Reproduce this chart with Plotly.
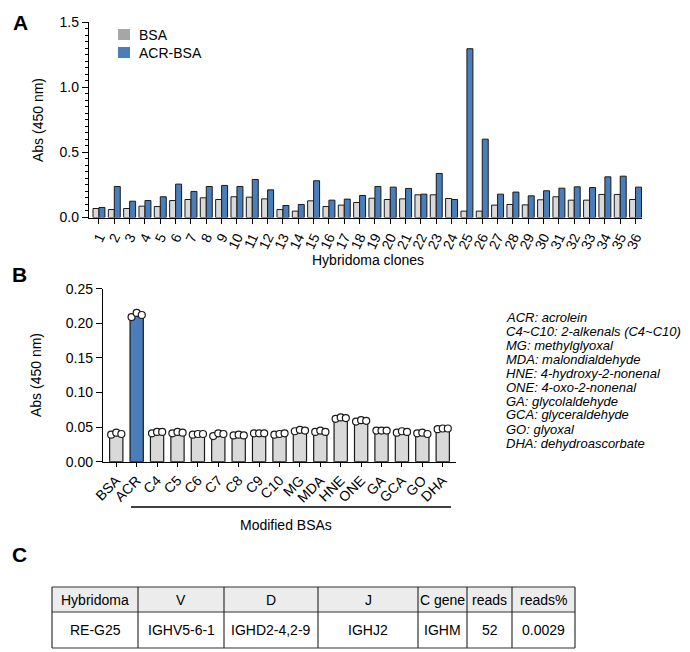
import plotly.graph_objects as go

W, H = 690, 652
def X(px): return px / W
def Y(py): return 1 - py / H

FONT = "Liberation Sans, Arial, sans-serif"

# ---------------- Panel A data ----------------
clones = [str(i) for i in range(1, 37)]
clone_pos = list(range(1, 37))
bsa_a = [0.069, 0.061, 0.069, 0.087, 0.084, 0.130, 0.138, 0.151, 0.138, 0.159,
         0.156, 0.143, 0.061, 0.049, 0.128, 0.084, 0.095, 0.115, 0.148, 0.138,
         0.143, 0.174, 0.174, 0.146, 0.049, 0.049, 0.095, 0.100, 0.097, 0.136,
         0.159, 0.133, 0.133, 0.177, 0.177, 0.138]
acr_a = [0.077, 0.238, 0.125, 0.130, 0.159, 0.256, 0.200, 0.238, 0.246, 0.238,
         0.292, 0.212, 0.092, 0.100, 0.282, 0.133, 0.141, 0.169, 0.238, 0.233,
         0.223, 0.179, 0.338, 0.138, 1.295, 0.601, 0.179, 0.195, 0.166, 0.205,
         0.225, 0.235, 0.230, 0.312, 0.317, 0.233]

# ---------------- Panel B data ----------------
mods = ["BSA", "ACR", "C4", "C5", "C6", "C7", "C8", "C9", "C10", "MG", "MDA",
        "HNE", "ONE", "GA", "GCA", "GO", "DHA"]
mod_pos = list(range(len(mods)))
mod_means = [0.041, 0.212, 0.041, 0.041, 0.039, 0.039, 0.038, 0.040, 0.039, 0.045,
             0.044, 0.063, 0.059, 0.045, 0.043, 0.040, 0.047]
rep1 = [0.039, 0.209, 0.041, 0.041, 0.039, 0.037, 0.038, 0.041, 0.039, 0.044,
        0.043, 0.062, 0.058, 0.045, 0.042, 0.041, 0.047]
rep2 = [0.042, 0.215, 0.043, 0.043, 0.040, 0.041, 0.039, 0.041, 0.040, 0.046,
        0.045, 0.064, 0.060, 0.045, 0.044, 0.042, 0.048]
rep3 = [0.040, 0.212, 0.043, 0.042, 0.040, 0.040, 0.038, 0.041, 0.041, 0.045,
        0.043, 0.063, 0.059, 0.045, 0.043, 0.040, 0.048]

abbrev_notes = ["ACR: acrolein", "C4~C10: 2-alkenals (C4~C10)", "MG: methylglyoxal",
                "MDA: malondialdehyde", "HNE: 4-hydroxy-2-nonenal", "ONE: 4-oxo-2-nonenal",
                "GA: glycolaldehyde", "GCA: glyceraldehyde", "GO: glyoxal",
                "DHA: dehydroascorbate"]

# ---------------- Panel C data ----------------
table_header = ["Hybridoma", "V", "D", "J", "C gene", "reads", "reads%"]
table_row = ["RE-G25", "IGHV5-6-1", "IGHD2-4,2-9", "IGHJ2", "IGHM", "52", "0.0029"]

GRAY = "#d9d9d9"
BLUE = "#4a7ebb"
EDGE = "#1a1a1a"

fig = go.Figure()

fig.add_trace(go.Bar(x=clone_pos, y=bsa_a, name="BSA", marker=dict(color=GRAY, line=dict(color=EDGE, width=1)),
                     xaxis="x", yaxis="y", showlegend=False))
fig.add_trace(go.Bar(x=clone_pos, y=acr_a, name="ACR-BSA", marker=dict(color=BLUE, line=dict(color=EDGE, width=1)),
                     xaxis="x", yaxis="y", showlegend=False))

bar_colors_b = [BLUE if m == "ACR" else GRAY for m in mods]
fig.add_trace(go.Bar(x=mod_pos, y=mod_means, width=0.65,
                     marker=dict(color=bar_colors_b, line=dict(color=EDGE, width=1.2)),
                     xaxis="x2", yaxis="y2", showlegend=False, offsetgroup="b"))
for off, rep in zip([-0.25, 0.0, 0.25], [rep1, rep2, rep3]):
    fig.add_trace(go.Scatter(x=[p + off for p in mod_pos], y=rep, mode="markers",
                             marker=dict(size=7, color="white", line=dict(color=EDGE, width=1.2)),
                             xaxis="x2", yaxis="y2", showlegend=False, cliponaxis=False))

axis_common = dict(showline=True, linecolor="black", linewidth=1.3, ticks="outside",
                   tickcolor="black", tickwidth=1.2, showgrid=False, zeroline=False,
                   automargin=False,
                   tickfont=dict(family=FONT, size=14, color="black"))

annotations = []
shapes = []

def txt(x, y, s, size=14, xanchor="center", **kw):
    d = dict(x=X(x), y=Y(y), xref="paper", yref="paper", text=s, showarrow=False,
             xanchor=xanchor, yanchor="middle",
             font=dict(family=FONT, size=size, color="black"))
    d.update(kw)
    annotations.append(d)

# panel labels
txt(12, 15, "<b>A</b>", size=21)
txt(11, 266, "<b>B</b>", size=21)
txt(11, 546, "<b>C</b>", size=21)
# axis titles
txt(30, 112, "Abs (450 nm)", textangle=-90)
txt(360, 252, "Hybridoma clones")
txt(28, 367, "Abs (450 nm)", textangle=-90)
txt(278, 517, "Modified BSAs")
# legend A
shapes.append(dict(type="rect", xref="paper", yref="paper", x0=X(110), x1=X(122), y0=Y(32), y1=Y(21),
                   fillcolor="#a6a6a6", line=dict(width=0)))
shapes.append(dict(type="rect", xref="paper", yref="paper", x0=X(110), x1=X(122), y0=Y(50), y1=Y(39),
                   fillcolor=BLUE, line=dict(width=0)))
txt(129, 26.5, "BSA", xanchor="left")
txt(129, 44.5, "ACR-BSA", xanchor="left")
# underline B
shapes.append(dict(type="line", xref="paper", yref="paper", x0=X(123), x1=X(443), y0=Y(499), y1=Y(499),
                   line=dict(color="black", width=1.3)))
# abbreviations
for i, s in enumerate(abbrev_notes):
    txt(496, 309 + 14 * i, "<i>" + s + "</i>", size=13, xanchor="left")

# table (panel C)
col_w = [86, 86, 94, 100, 49, 45, 63]
t_left, t_top, t_mid, t_bot = 44, 579, 604, 640
edges = [t_left]
for w in col_w:
    edges.append(edges[-1] + w)
shapes.append(dict(type="rect", xref="paper", yref="paper", x0=X(edges[0]), x1=X(edges[-1]),
                   y0=Y(t_mid), y1=Y(t_top), fillcolor="#ececec", line=dict(width=0), layer="below"))
for yy in [t_top, t_mid, t_bot]:
    shapes.append(dict(type="line", xref="paper", yref="paper", x0=X(edges[0]), x1=X(edges[-1]),
                       y0=Y(yy), y1=Y(yy), line=dict(color="#333333", width=1.2)))
for xx in edges:
    shapes.append(dict(type="line", xref="paper", yref="paper", x0=X(xx), x1=X(xx),
                       y0=Y(t_top), y1=Y(t_bot), line=dict(color="#333333", width=1.2)))
for i in range(len(col_w)):
    cx = (edges[i] + edges[i + 1]) / 2
    txt(cx, (t_top + t_mid) / 2, table_header[i], size=14)
    txt(cx, (t_mid + t_bot) / 2, table_row[i], size=14)

fig.update_layout(
    width=W, height=H, margin=dict(l=0, r=0, t=0, b=0, autoexpand=False),
    paper_bgcolor="white", plot_bgcolor="white",
    barmode="group", bargap=0.22, bargroupgap=0,
    font=dict(family=FONT, size=14, color="black"),
    xaxis=dict(domain=[X(81), X(634)], range=[0.35, 36.42], tickvals=clone_pos, ticktext=clones,
               tickangle=-65, ticklen=5, anchor="y", **axis_common),
    yaxis=dict(domain=[Y(209.5), Y(14)], range=[0, 1.5], tickvals=[0, 0.5, 1.0, 1.5],
               tickformat=".1f", ticklen=6, anchor="x",
               minor=dict(dtick=0.05, ticks="outside", ticklen=3, tickcolor="black", tickwidth=1), **axis_common),
    xaxis2=dict(domain=[X(95), X(448)], range=[-0.65, 16.65], tickvals=mod_pos, ticktext=mods,
                tickangle=-45, ticklen=4, anchor="y2", **axis_common),
    yaxis2=dict(domain=[Y(453.7), Y(280.7)], range=[0, 0.25], tickvals=[0, 0.05, 0.1, 0.15, 0.2, 0.25],
                tickformat=".2f", ticklen=6, anchor="x2", **axis_common),
    annotations=annotations, shapes=shapes,
)

fig.write_html("out.html")
